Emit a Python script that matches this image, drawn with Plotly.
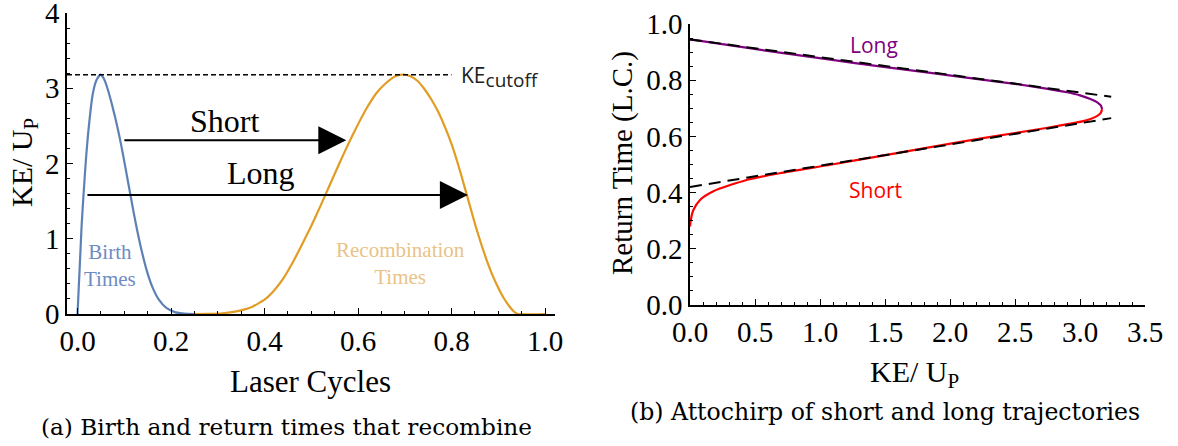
import plotly.graph_objects as go

W, H = 1178, 446

# ---------------- Panel (a): KE/Up vs laser cycles ----------------
birth_t = [0.0, 0.003, 0.006, 0.009, 0.013, 0.018, 0.024, 0.0325, 0.040, 0.049,
           0.057, 0.065, 0.073, 0.081, 0.089, 0.097, 0.105, 0.113, 0.121, 0.129,
           0.138, 0.148, 0.160, 0.174, 0.190, 0.208, 0.228, 0.25]
birth_ke = [0.0, 0.4, 0.8, 1.2, 1.6, 2.05, 2.48, 2.92, 3.1, 3.18,
            3.12, 2.98, 2.80, 2.60, 2.38, 2.13, 1.86, 1.59, 1.32, 1.07,
            0.82, 0.58, 0.36, 0.19, 0.08, 0.025, 0.004, 0.0]

recomb_t = [0.25, 0.28, 0.31, 0.34, 0.37, 0.40, 0.42, 0.44, 0.46, 0.48,
            0.50, 0.52, 0.54, 0.56, 0.58, 0.60, 0.62, 0.64, 0.66, 0.68,
            0.697, 0.712, 0.727, 0.742, 0.757, 0.772, 0.787, 0.80, 0.812, 0.822,
            0.832, 0.842, 0.852, 0.863, 0.875, 0.888, 0.90, 0.912, 0.924, 0.934,
            0.942, 1.0]
recomb_ke = [0.0, 0.002, 0.01, 0.035, 0.085, 0.19, 0.31, 0.47, 0.68, 0.92,
             1.17, 1.44, 1.72, 2.00, 2.27, 2.52, 2.75, 2.94, 3.07, 3.16,
             3.18, 3.16, 3.10, 2.99, 2.85, 2.68, 2.47, 2.26, 2.03, 1.82,
             1.60, 1.38, 1.16, 0.94, 0.72, 0.51, 0.35, 0.21, 0.10, 0.03,
             0.0, 0.0]

ke_cutoff = 3.18
cutoff_t = [-0.0225, 0.80]

short_arrow_t = [0.097, 0.575]
short_arrow_ke = 2.31
long_arrow_t = [0.018, 0.835]
long_arrow_ke = 1.58

# ---------------- Panel (b): return time vs KE/Up ----------------
long_ke = [0.0, 0.3, 0.69, 1.08, 1.46, 1.85, 2.23, 2.5, 2.74, 2.9, 3.0, 3.08, 3.13, 3.16, 3.17]
long_rt = [0.945, 0.925, 0.898, 0.873, 0.849, 0.826, 0.803, 0.787, 0.770, 0.757, 0.746,
           0.733, 0.722, 0.710, 0.697]
short_ke = [3.17, 3.16, 3.13, 3.05, 2.97, 2.74, 2.5, 2.23, 1.85, 1.46, 1.08, 0.69, 0.436,
            0.18, 0.077, 0.026, 0.005, 0.0]
short_rt = [0.697, 0.684, 0.672, 0.657, 0.649, 0.630, 0.612, 0.592, 0.562, 0.530, 0.499,
            0.469, 0.445, 0.405, 0.374, 0.338, 0.30, 0.279]
long_fit_ke = [0.0, 3.24]
long_fit_rt = [0.945, 0.741]
short_fit_ke = [0.0, 3.24]
short_fit_rt = [0.420, 0.665]

SERIF = "Liberation Serif"
CAPTION = "DejaVu Serif"
SANS = "Open Sans"


def px(x, y):
    return x / W, 1 - y / H


fig = go.Figure()

fig.add_trace(go.Scatter(x=birth_t, y=birth_ke, mode="lines", line=dict(color="#5e81b5", width=2.2, shape="spline", smoothing=0.6), xaxis="x", yaxis="y", hoverinfo="skip"))
fig.add_trace(go.Scatter(x=recomb_t, y=recomb_ke, mode="lines", line=dict(color="#e19c24", width=2.2, shape="spline", smoothing=0.5), xaxis="x", yaxis="y", hoverinfo="skip"))
fig.add_trace(go.Scatter(x=cutoff_t, y=[ke_cutoff, ke_cutoff], mode="lines", line=dict(color="black", width=1.6, dash="5px,3px"), xaxis="x", yaxis="y", hoverinfo="skip"))

fig.add_trace(go.Scatter(x=long_ke, y=long_rt, mode="lines", line=dict(color="#800080", width=2.2, shape="spline", smoothing=0.6), xaxis="x2", yaxis="y2", hoverinfo="skip"))
fig.add_trace(go.Scatter(x=short_ke, y=short_rt, mode="lines", line=dict(color="#ff0000", width=2.2, shape="spline", smoothing=0.6), xaxis="x2", yaxis="y2", hoverinfo="skip"))
fig.add_trace(go.Scatter(x=long_fit_ke, y=long_fit_rt, mode="lines", line=dict(color="black", width=2, dash="12px,7px"), xaxis="x2", yaxis="y2", hoverinfo="skip"))
fig.add_trace(go.Scatter(x=short_fit_ke, y=short_fit_rt, mode="lines", line=dict(color="black", width=2, dash="12px,7px"), xaxis="x2", yaxis="y2", hoverinfo="skip"))

axis_common = dict(showgrid=False, zeroline=False, showline=True, linecolor="black", linewidth=1.5,
                   ticks="inside", ticklen=6, tickwidth=1.2, tickcolor="black", automargin=False,
                   ticklabeloverflow="allow",
                   tickfont=dict(family=SERIF, size=29, color="black"))

xd1 = [67 / W, 555 / W]
yd1 = [(H - 314) / H, (H - 13) / H]
xd2 = [690 / W, 1145 / W]
yd2 = [(H - 305) / H, (H - 24) / H]

fig.update_layout(
    width=W, height=H, margin=dict(l=0, r=0, t=0, b=0, autoexpand=False),
    paper_bgcolor="white", plot_bgcolor="white", showlegend=False,
    xaxis=dict(domain=xd1, range=[-0.0225, 1.0214], anchor="y", tickvals=[0, 0.2, 0.4, 0.6, 0.8, 1.0],
               tickformat=".1f", minor=dict(dtick=0.05, tick0=0, ticks="inside", ticklen=3, tickcolor="black"), **axis_common),
    yaxis=dict(domain=yd1, range=[0, 4], anchor="x", dtick=1,
               minor=dict(dtick=0.2, tick0=0, ticks="inside", ticklen=3, tickcolor="black"), **axis_common),
    xaxis2=dict(domain=xd2, range=[0, 3.5], anchor="y2", dtick=0.5, tickformat=".1f",
                minor=dict(dtick=0.1, tick0=0, ticks="inside", ticklen=3, tickcolor="black"), **axis_common),
    yaxis2=dict(domain=yd2, range=[0, 1], anchor="x2", dtick=0.2, tickformat=".1f",
                minor=dict(dtick=0.05, tick0=0, ticks="inside", ticklen=3, tickcolor="black"), **axis_common),
)

ann = []


def text(x, y, s, size, family=SERIF, color="black", angle=0, xanchor="center"):
    X, Y = px(x, y)
    ann.append(dict(x=X, y=Y, xref="paper", yref="paper", text=s, showarrow=False, textangle=angle,
                    xanchor=xanchor, yanchor="middle", font=dict(family=family, size=size, color=color)))


# arrows
for (t0, t1), ke in [(short_arrow_t, short_arrow_ke), (long_arrow_t, long_arrow_ke)]:
    ann.append(dict(x=t1, y=ke, ax=t0, ay=ke, xref="x", yref="y", axref="x", ayref="y", text="",
                    showarrow=True, arrowhead=2, arrowsize=2.8, arrowwidth=2, arrowcolor="black", standoff=0))

text(224, 121, "Short", 32)
text(261, 173, "Long", 32)
text(110, 265, "Birth<br>Times", 21, color="#6d8cc4")
text(400, 263, "Recombination<br>Times", 21, color="#e9c387")
text(459, 77, "KE<sub><span style='font-size:19px'>cutoff</span></sub>", 21, family=SANS, color="#222222", xanchor="left")
text(24, 163, "KE/ U<sub>P</sub>", 30, angle=-90)
text(310, 381, "Laser Cycles", 31)
text(286, 426, "(a) Birth and return times that recombine", 23.2, family=CAPTION)

text(874, 45, "Long", 21, family=SANS, color="#800080")
text(875, 190, "Short", 21, family=SANS, color="#ff0000")
text(622, 163, "Return Time (L.C.)", 29, angle=-90)
text(915, 374, "KE/ U<sub>P</sub>", 30)
text(885, 412, "(b) Attochirp of short and long trajectories", 23.6, family=CAPTION)

fig.update_layout(annotations=ann)
fig.write_html("out.html")
